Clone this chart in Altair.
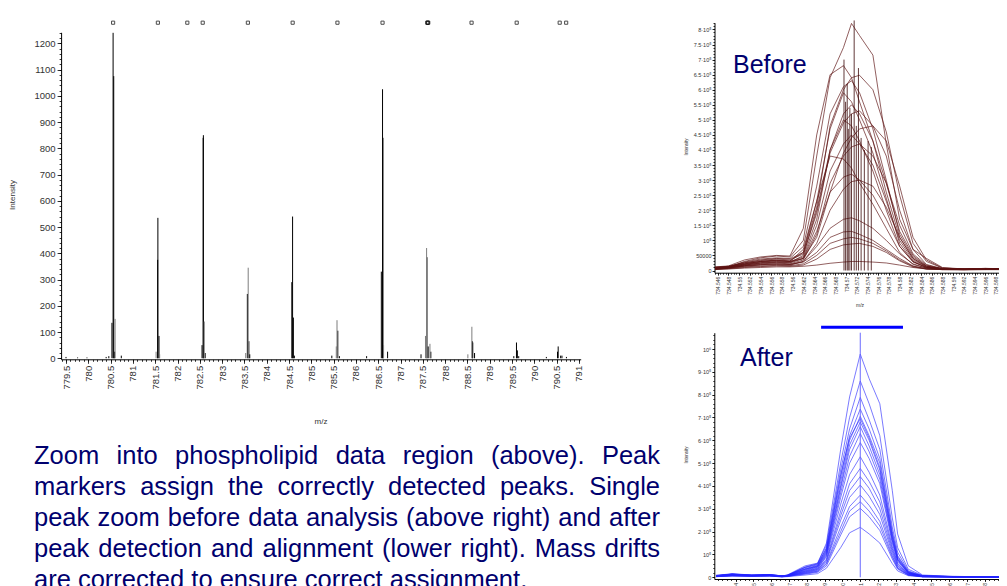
import altair as alt
import pandas as pd

OX, OY = 8, 8          # page margin of the html page
W, H = 991, 578        # full drawing canvas (chart coordinates)

# ------------------------------------------------------------------ data
# main spectrum: sticks (m/z, intensity, trace)
spec_mz = [779.50, 779.76, 779.97, 780.40, 780.46, 780.53, 780.556, 780.57, 780.59, 780.74,
           781.555, 781.56, 781.585, 782.55, 782.575, 782.58, 782.62, 783.566, 783.60, 783.62,
           784.563, 784.58, 784.598, 784.62, 785.46, 785.594, 785.63, 786.24, 786.57, 786.597,
           786.606, 786.71, 787.46, 787.593, 787.62, 787.68, 788.61, 788.62, 788.66, 789.54,
           789.60, 789.62, 789.65, 790.27, 790.52, 790.535, 790.59, 790.62, 790.72,
           780.60, 781.52, 781.60, 782.60, 783.53, 783.585, 785.56, 785.576, 786.62, 787.56,
           787.585, 787.66, 788.51, 788.60]
spec_int = [5, 3, 3, 5, 8, 135, 1240, 1075, 25, 10,
            375, 535, 85, 50, 840, 850, 20, 245, 65, 15,
            290, 540, 155, 10, 10, 105, 8, 8, 330, 1025,
            840, 25, 15, 385, 45, 25, 65, 60, 20, 8,
            60, 30, 8, 5, 25, 45, 10, 10, 5,
            150, 25, 15, 140, 20, 345, 45, 145, 50, 85,
            420, 55, 15, 120]
spec_trace = ["k"] * 49 + ["g"] * 14

# detected peak markers (top row)
marker_mz = [780.556, 781.56, 782.22, 782.565, 783.578, 784.582, 785.586, 786.597,
             787.600, 787.610, 787.622, 788.593, 789.605, 790.569, 790.714]

main_x_labels = [779.5, 780, 780.5, 781, 781.5, 782, 782.5, 783, 783.5, 784, 784.5, 785,
                 785.5, 786, 786.5, 787, 787.5, 788, 788.5, 789, 789.5, 790, 790.5, 791]
main_y_labels = [0, 100, 200, 300, 400, 500, 600, 700, 800, 900, 1000, 1100, 1200]

# "Before" panel: raw profiles (x grid in m/z, intensity in thousands)
before_mz = [734.5455, 734.548, 734.551, 734.554, 734.557, 734.5595, 734.562, 734.5645,
             734.567, 734.5695, 734.571, 734.5725, 734.575, 734.5775, 734.580, 734.5825,
             734.585, 734.588, 734.592, 734.596, 734.5995]
before_k = [
    [6, 10, 30, 42, 48, 45, 100, 380, 640, 740, 820, 780, 715, 420, 170, 70, 40, 10, 5, 6, 5],
    [12, 15, 35, 45, 50, 48, 140, 450, 650, 680, 640, 560, 430, 260, 110, 40, 12, 6, 4, 5, 6],
    [8, 12, 25, 35, 40, 38, 60, 210, 480, 600, 640, 648, 600, 460, 250, 90, 30, 8, 5, 7, 5],
    [10, 14, 28, 38, 42, 40, 80, 280, 520, 610, 630, 590, 470, 300, 120, 45, 15, 6, 4, 6, 5],
    [5, 10, 22, 30, 35, 32, 60, 230, 470, 590, 560, 500, 390, 240, 90, 30, 10, 5, 4, 5, 4],
    [7, 12, 20, 28, 32, 30, 45, 170, 400, 520, 550, 520, 430, 290, 130, 50, 15, 5, 4, 6, 5],
    [10, 13, 26, 33, 38, 35, 55, 190, 390, 490, 520, 530, 480, 380, 200, 70, 20, 6, 5, 6, 6],
    [6, 9, 18, 25, 28, 26, 50, 200, 400, 500, 480, 430, 330, 200, 80, 28, 10, 5, 4, 5, 4],
    [9, 12, 22, 30, 34, 30, 40, 110, 260, 390, 440, 470, 480, 430, 280, 110, 35, 8, 5, 7, 6],
    [8, 11, 20, 26, 30, 28, 40, 150, 330, 420, 450, 420, 350, 230, 100, 35, 12, 5, 4, 5, 5],
    [5, 8, 16, 22, 25, 22, 35, 120, 290, 380, 410, 420, 380, 290, 150, 55, 18, 6, 4, 6, 5],
    [11, 14, 24, 30, 33, 30, 70, 230, 380, 370, 340, 290, 220, 140, 60, 20, 8, 5, 4, 5, 5],
    [6, 10, 18, 24, 27, 25, 40, 130, 260, 310, 320, 300, 250, 170, 80, 30, 10, 5, 4, 5, 4],
    [7, 10, 16, 20, 22, 20, 30, 90, 200, 270, 295, 300, 280, 210, 110, 40, 14, 5, 4, 6, 5],
    [4, 8, 14, 18, 20, 18, 30, 80, 140, 170, 175, 165, 140, 100, 55, 22, 8, 4, 3, 4, 4],
    [6, 9, 15, 19, 22, 20, 28, 60, 110, 128, 130, 120, 100, 70, 40, 15, 6, 4, 3, 4, 3],
    [5, 7, 12, 15, 17, 16, 22, 50, 90, 105, 110, 105, 90, 65, 35, 14, 5, 3, 3, 4, 3],
    [4, 6, 10, 13, 15, 14, 18, 38, 70, 85, 88, 90, 80, 60, 32, 12, 5, 3, 3, 3, 3],
    [3, 5, 8, 10, 12, 12, 14, 18, 24, 28, 30, 30, 28, 25, 18, 10, 5, 3, 2, 3, 3],
]
# per-sample apex markers in the Before panel (m/z, intensity in thousands)
before_apex_mz = [734.5696, 734.5699, 734.5702, 734.5704, 734.5707, 734.5710, 734.5715,
                  734.5719, 734.5723, 734.5728, 734.5734, 734.5741, 734.5747]
before_apex_k = [700, 560, 620, 470, 540, 520, 830, 480, 672, 440, 400, 430, 410]

before_x_labels = [734.546, 734.548, 734.55, 734.552, 734.554, 734.556, 734.558, 734.56,
                   734.562, 734.564, 734.566, 734.568, 734.57, 734.572, 734.574, 734.576,
                   734.578, 734.58, 734.582, 734.584, 734.586, 734.588, 734.59, 734.592,
                   734.594, 734.596, 734.598]
before_y_labels = [0, 50000, 100000, 150000, 200000, 250000, 300000, 350000, 400000,
                   450000, 500000, 550000, 600000, 650000, 700000, 750000, 800000]

# "After" panel: aligned profiles (x grid in m/z, intensity in thousands)
after_mz = [734.5629, 734.5638, 734.5649, 734.5659, 734.5666, 734.5669, 734.5679, 734.5686,
            734.5691, 734.5699, 734.5704, 734.5710, 734.5715, 734.5721, 734.5728, 734.5731,
            734.5737, 734.5745, 734.5762, 734.5790]
after_k = [
    [6, 14, 9, 11, 7, 9, 45, 60, 150, 560, 790, 978, 870, 760, 380, 190, 50, 10, 4, 2],
    [8, 16, 10, 12, 6, 10, 50, 62, 140, 500, 700, 860, 760, 620, 260, 130, 35, 8, 4, 2],
    [7, 13, 8, 10, 5, 8, 42, 55, 130, 470, 650, 788, 690, 560, 220, 110, 28, 7, 3, 2],
    [6, 15, 9, 12, 6, 9, 38, 52, 120, 440, 620, 737, 650, 520, 200, 95, 25, 6, 3, 2],
    [9, 12, 10, 9, 5, 7, 35, 50, 115, 420, 600, 705, 620, 500, 190, 90, 24, 6, 3, 2],
    [5, 14, 8, 11, 6, 8, 44, 58, 125, 450, 610, 695, 610, 480, 180, 85, 22, 5, 3, 1],
    [7, 11, 9, 10, 5, 9, 36, 48, 110, 400, 580, 680, 600, 470, 175, 80, 20, 5, 3, 2],
    [6, 13, 8, 12, 6, 7, 33, 46, 105, 390, 560, 660, 575, 450, 165, 78, 20, 5, 3, 1],
    [8, 12, 9, 9, 5, 8, 30, 44, 100, 370, 530, 630, 550, 430, 160, 75, 18, 5, 2, 1],
    [5, 10, 7, 10, 4, 6, 28, 40, 95, 350, 500, 590, 520, 410, 150, 70, 18, 4, 2, 1],
    [6, 11, 8, 9, 5, 7, 26, 38, 90, 320, 450, 528, 460, 360, 135, 62, 16, 4, 2, 1],
    [4, 9, 6, 8, 4, 6, 24, 35, 80, 290, 410, 477, 420, 330, 125, 58, 15, 4, 2, 1],
    [5, 10, 7, 9, 4, 5, 22, 33, 75, 270, 380, 441, 390, 300, 115, 52, 14, 3, 2, 1],
    [4, 8, 6, 7, 3, 5, 20, 30, 70, 250, 350, 404, 355, 275, 105, 48, 12, 3, 2, 1],
    [3, 7, 5, 7, 3, 5, 18, 27, 62, 220, 310, 360, 315, 245, 95, 42, 11, 3, 2, 1],
    [4, 8, 5, 6, 3, 4, 16, 25, 58, 200, 290, 331, 290, 225, 88, 40, 10, 3, 1, 1],
    [3, 6, 5, 6, 2, 4, 14, 22, 50, 185, 265, 302, 265, 205, 80, 36, 9, 2, 1, 1],
    [3, 5, 4, 5, 2, 3, 10, 16, 40, 130, 195, 219, 190, 150, 60, 28, 7, 2, 1, 1],
]
after_peak_mz = 734.5710
after_window = [734.5688, 734.5734]
after_x_labels = [734.564, 734.565, 734.566, 734.567, 734.568, 734.569, 734.570, 734.571,
                  734.572, 734.573, 734.574, 734.575, 734.576, 734.577, 734.578, 734.579]
after_y_labels = [0, 100000, 200000, 300000, 400000, 500000, 600000, 700000, 800000,
                  900000, 1000000]

caption_lines = [
    "Zoom into phospholipid data region (above). Peak",
    "markers assign the correctly detected peaks. Single",
    "peak zoom before data analysis (above right) and after",
    "peak detection and alignment (lower right). Mass drifts",
    "are corrected to ensure correct assignment.",
]

# ------------------------------------------------------------------ helpers
def cx(x):  # page x -> chart x
    return x - OX

def cy(y):  # page y -> chart y
    return y - OY

def left_off(page_x):
    return -cx(page_x)

def bottom_off(page_y):
    return cy(page_y) - H

FONT = "Liberation Sans"
NAVY = "#00006e"
LAB = "#333333"

ARIAL = {' ': 278, '(': 333, ')': 333, '.': 278, 'A': 667, 'M': 833, 'P': 667, 'S': 667,
         'Z': 611, 'a': 556, 'b': 556, 'c': 500, 'd': 556, 'e': 556, 'f': 278, 'g': 556,
         'h': 556, 'i': 222, 'j': 222, 'k': 500, 'l': 222, 'm': 833, 'n': 556, 'o': 556,
         'p': 556, 'q': 556, 'r': 333, 's': 500, 't': 278, 'u': 556, 'v': 500, 'w': 722,
         'x': 500, 'y': 500, 'z': 500}

def tw(s, size):
    return sum(ARIAL.get(c, 556) for c in s) / 1000.0 * size

def ax(orient, off, values, size=9.5, labels=True, tick=4, domain=True, angle=0,
       fmt=None, expr=None, pad=2):
    kw = dict(orient=orient, offset=off, values=values, title=None, grid=False,
              labels=labels, tickSize=tick, domain=domain, labelOverlap=False,
              labelFlush=False, labelBound=False, labelFont=FONT, labelFontSize=size,
              labelColor=LAB, tickColor="#000000", domainColor="#000000",
              labelPadding=pad, tickWidth=0.8, domainWidth=1)
    if angle:
        kw.update(labelAngle=angle, labelAlign="right", labelBaseline="middle")
    if fmt:
        kw["format"] = fmt
    if expr:
        kw["labelExpr"] = expr
    return alt.Axis(**kw)

# ------------------------------------------------------------------ scales
main_x = alt.Scale(domain=[779.39, 791.04], range=[cx(61.1), cx(580.7)], nice=False, zero=False)
main_y = alt.Scale(domain=[-4, 1242], range=[cy(359.3), cy(32.3)], nice=False, zero=False)

bef_x = alt.Scale(domain=[734.5454, 734.5995], range=[cx(714.5), cx(1004)], nice=False, zero=False)
bef_y = alt.Scale(domain=[-7300, 822500], range=[cy(272.7), cy(22.7)], nice=False, zero=False)

aft_x = alt.Scale(domain=[734.5628, 734.5793], range=[cx(714.3), cx(1008)], nice=False, zero=False)
aft_y = alt.Scale(domain=[-7400, 1071400], range=[cy(579), cy(332.7)], nice=False, zero=False)

# ------------------------------------------------------------------ frames
spec = pd.DataFrame({"mz": spec_mz, "inten": spec_int, "trace": spec_trace})
marks = pd.DataFrame({"mz": marker_mz})

bef_rows = []
for i, ser in enumerate(before_k):
    for m, v in zip(before_mz, ser):
        bef_rows.append({"series": i, "mz": m, "inten": v * 1000})
bef = pd.DataFrame(bef_rows)
bef_apex = pd.DataFrame({"mz": before_apex_mz, "inten": [v * 1000 for v in before_apex_k]})

aft_rows = []
for i, ser in enumerate(after_k):
    for m, v in zip(after_mz, ser):
        aft_rows.append({"series": i, "mz": m, "inten": v * 1000})
aft = pd.DataFrame(aft_rows)

# caption words, justified between x0 and x1
cap_size = 25.5
x0, x1 = 34, 660
baselines = [464, 495, 526, 557, 588]
words = []
for li, (line, yb) in enumerate(zip(caption_lines, baselines)):
    ws = line.split(" ")
    wd = [tw(w, cap_size) for w in ws]
    if li < len(caption_lines) - 1:
        gap = (x1 - x0 - sum(wd)) / (len(ws) - 1)
    else:
        gap = tw(" ", cap_size)
    xx = x0
    for w, d in zip(ws, wd):
        words.append({"word": w, "px": cx(xx), "py": cy(yb)})
        xx += d + gap
cap = pd.DataFrame(words)

# minor tick positions
main_x_minor = [round(779.4 + 0.1 * i, 1) for i in range(0, 117)]
main_y_minor = [20 * i for i in range(0, 63)]
bef_x_minor = [round(734.5455 + 0.0005 * i, 4) for i in range(0, 109)]
bef_y_minor = [10000 * i for i in range(0, 83)]
aft_x_minor = [round(734.56275 + 0.00025 * i, 5) for i in range(0, 66)]
aft_y_minor = [20000 * i for i in range(0, 54)]

# ------------------------------------------------------------------ layers
layers = []

# main spectrum: minor ticks
layers.append(alt.Chart(spec).mark_point(opacity=0).encode(
    x=alt.X("mz:Q", scale=main_x, axis=ax("bottom", bottom_off(359.3), main_x_minor, labels=False, tick=2, domain=False)),
    y=alt.Y("inten:Q", scale=main_y, axis=ax("left", left_off(61.1), main_y_minor, labels=False, tick=2, domain=False)),
))
# main spectrum sticks with major axes
layers.append(alt.Chart(spec).mark_rule(strokeWidth=1).encode(
    x=alt.X("mz:Q", scale=main_x, axis=ax("bottom", bottom_off(359.3), main_x_labels, angle=270, fmt=".1~f", size=9.5)),
    y=alt.Y("inten:Q", scale=main_y, axis=ax("left", left_off(61.1), main_y_labels, size=9.5, fmt="d")),
    y2=alt.datum(0),
    color=alt.Color("trace:N", scale=alt.Scale(domain=["k", "g"], range=["#000000", "#7d7d7d"]), legend=None),
))
# peak markers
layers.append(alt.Chart(marks).mark_point(shape="square", filled=False, size=10, strokeWidth=1, color="#000000").encode(
    x=alt.X("mz:Q", scale=main_x, axis=None),
    y=alt.value(cy(22.7)),
))

# Before panel
layers.append(alt.Chart(bef).mark_point(opacity=0).encode(
    x=alt.X("mz:Q", scale=bef_x, axis=ax("bottom", bottom_off(272.7), bef_x_minor, labels=False, tick=1.5, domain=False)),
    y=alt.Y("inten:Q", scale=bef_y, axis=ax("left", left_off(714.5), bef_y_minor, labels=False, tick=1.5, domain=False)),
))
layers.append(alt.Chart(bef).mark_line(color="#5c1212", strokeWidth=0.9, opacity=0.75).encode(
    x=alt.X("mz:Q", scale=bef_x, axis=ax("bottom", bottom_off(272.7), before_x_labels, angle=270, fmt=".3~f", size=5, tick=2.5, pad=1)),
    y=alt.Y("inten:Q", scale=bef_y, axis=ax("left", left_off(714.5), before_y_labels, size=5.5, tick=2.5, pad=1,
             expr="datum.value == 0 ? '0' : datum.value == 50000 ? '50000' : datum.value == 100000 ? '10⁵' : format(datum.value / 100000, '~g') + '·10⁵'")),
    detail="series:N",
))
layers.append(alt.Chart(bef_apex).mark_rule(color="#3a0808", strokeWidth=0.8).encode(
    x=alt.X("mz:Q", scale=bef_x, axis=None),
    y=alt.Y("inten:Q", scale=bef_y, axis=None),
    y2=alt.datum(0),
))

# After panel
layers.append(alt.Chart(aft).mark_point(opacity=0).encode(
    x=alt.X("mz:Q", scale=aft_x, axis=ax("bottom", bottom_off(579), aft_x_minor, labels=False, tick=1.5, domain=False)),
    y=alt.Y("inten:Q", scale=aft_y, axis=ax("left", left_off(714.3), aft_y_minor, labels=False, tick=1.5, domain=False)),
))
layers.append(alt.Chart(aft).mark_line(color="#2424ff", strokeWidth=0.9, opacity=0.68).encode(
    x=alt.X("mz:Q", scale=aft_x, axis=ax("bottom", bottom_off(579), after_x_labels, angle=270, fmt=".3f", size=5, tick=2.5, pad=1)),
    y=alt.Y("inten:Q", scale=aft_y, axis=ax("left", left_off(714.3), after_y_labels, size=5.5, tick=2.5, pad=1,
             expr="datum.value == 0 ? '0' : datum.value == 100000 ? '10⁵' : datum.value == 1000000 ? '10⁶' : format(datum.value / 100000, '~g') + '·10⁵'")),
    detail="series:N",
))
peak_df = pd.DataFrame({"mz": [after_peak_mz], "lo": [0], "hi": [1071400]})
layers.append(alt.Chart(peak_df).mark_rule(color="#6a6aff", strokeWidth=1).encode(
    x=alt.X("mz:Q", scale=aft_x, axis=None),
    y=alt.Y("lo:Q", scale=aft_y, axis=None),
    y2="hi:Q",
))
win_df = pd.DataFrame({"a": [after_window[0]], "b": [after_window[1]]})
layers.append(alt.Chart(win_df).mark_rule(color="#0000ff", strokeWidth=3).encode(
    x=alt.X("a:Q", scale=aft_x, axis=None),
    x2="b:Q",
    y=alt.value(cy(327.3)),
))

# texts
def label(txt, x, y, size, angle=0, color=LAB, align="center", baseline="middle"):
    df = pd.DataFrame({"t": [txt]})
    kw = dict(font=FONT, fontSize=size, color=color, align=align, baseline=baseline)
    if angle:
        kw["angle"] = angle
    return alt.Chart(df).mark_text(**kw).encode(text="t:N", x=alt.value(cx(x)), y=alt.value(cy(y)))

layers.append(label("Intensity", 13, 195, 8, angle=270))
layers.append(label("m/z", 321, 422, 8))
layers.append(label("Intensity", 686.5, 147, 4.5, angle=270))
layers.append(label("m/z", 860, 305, 5))
layers.append(label("Intensity", 686.5, 455, 4.5, angle=270))
layers.append(label("Before", 733, 72.7, 25, color=NAVY, align="left", baseline="alphabetic"))
layers.append(label("After", 740, 366, 25, color=NAVY, align="left", baseline="alphabetic"))

layers.append(alt.Chart(cap).mark_text(font=FONT, fontSize=cap_size, color=NAVY, align="left",
                                       baseline="alphabetic").encode(
    x=alt.X("px:Q", scale=None),
    y=alt.Y("py:Q", scale=None),
    text="word:N",
))

chart = alt.layer(*layers).resolve_scale(
    x="independent", y="independent", color="independent"
).properties(
    width=W, height=H, padding=0,
    autosize=alt.AutoSizeParams(type="none"),
    background="white",
).configure_view(stroke=None).configure_axis(grid=False)

chart.save("out.html", embed_options={"renderer": "svg", "actions": False})
